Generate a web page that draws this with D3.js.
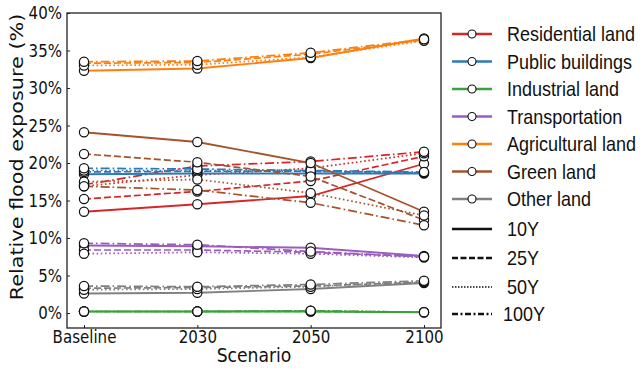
<!DOCTYPE html>
<html><head><meta charset="utf-8">
<script src="https://cdn.jsdelivr.net/npm/d3@7"></script>
<style>body{margin:0;background:#fff}svg{display:block}</style>
</head><body>
<svg id="c" width="640" height="371"></svg>
<script>
// ---- data ----
const scenarios = ["Baseline", "2030", "2050", "2100"];
const returnPeriods = ["10Y", "25Y", "50Y", "100Y"];
const landTypes = ["Residential land", "Public buildings", "Industrial land", "Transportation", "Agricultural land", "Green land", "Other land"];
const landColors = ["#d62728", "#2f79b5", "#3ca03c", "#9b5cbf", "#ff7f0e", "#a5532c", "#808080"];
const yTicks = [0, 5, 10, 15, 20, 25, 30, 35, 40];
// rows: 10Y, 25Y, 50Y, 100Y ; columns: scenarios
const residential = [[13.5, 14.5, 15.6, 19.9], [15.2, 16.2, 17.6, 20.9], [16.9, 18.4, 19.3, 21.3], [17.1, 19.6, 20.2, 21.5]];
const publicBuildings = [[18.5, 18.6, 18.6, 18.6], [18.8, 18.9, 18.9, 18.7], [19.0, 19.0, 18.9, 18.7], [19.3, 19.2, 19.0, 18.8]];
const industrial = [[0.2, 0.2, 0.2, 0.1], [0.2, 0.2, 0.2, 0.1], [0.2, 0.2, 0.3, 0.1], [0.2, 0.2, 0.3, 0.1]];
const transportation = [[9.0, 8.9, 8.7, 7.6], [8.4, 8.4, 8.1, 7.5], [7.9, 8.1, 7.9, 7.4], [9.3, 9.1, 8.2, 7.5]];
const agricultural = [[32.3, 32.6, 34.0, 36.6], [33.3, 33.4, 34.5, 36.4], [33.0, 33.1, 34.1, 36.3], [33.5, 33.6, 34.7, 36.5]];
const greenLand = [[24.1, 22.8, 20.0, 13.5], [21.2, 20.1, 18.2, 12.4], [17.5, 17.8, 16.0, 13.0], [16.9, 16.4, 14.7, 11.7]];
const otherLand = [[2.6, 2.7, 3.2, 4.0], [3.3, 3.4, 3.6, 4.1], [3.1, 3.2, 3.5, 4.2], [3.6, 3.5, 3.8, 4.3]];
const allSeries = [residential, publicBuildings, industrial, transportation, agricultural, greenLand, otherLand];

// ---- styles ----
const dashes = ["none", "7,3", "1.6,2.6", "9,3,1.6,3"];
const legendDashes = ["none", "6,2.5", "1.5,1.5", "6,2.5,2,2.5"];
const sx = 0.86;

const svg = d3.select("#c");
const x = d3.scalePoint().domain(scenarios).range([67, 441]).padding(0.15);
const y = d3.scaleLinear().domain([-2, 40]).range([328, 13]);

// lines + markers
const line = d3.line().x((d, i) => x(scenarios[i])).y(d => y(d));
const g = svg.append("g");
allSeries.forEach((series, li) => {
  series.forEach((vals, ri) => {
    g.append("path").attr("d", line(vals)).attr("fill", "none")
      .attr("stroke", landColors[li]).attr("stroke-width", ri === 0 ? 1.8 : 1.7)
      .attr("stroke-dasharray", dashes[ri]);
    g.selectAll(null).data(vals).enter().append("circle")
      .attr("cx", (d, i) => x(scenarios[i])).attr("cy", d => y(d)).attr("r", 4.6)
      .attr("fill", "#fff").attr("stroke", "#111").attr("stroke-width", 1.2);
  });
});

// axes
const yAxis = svg.append("g").attr("transform", "translate(67,0)")
  .call(d3.axisLeft(y).tickValues(yTicks).tickFormat(d => d + "%").tickSize(-3).tickSizeOuter(0).tickPadding(5));
const xAxis = svg.append("g").attr("transform", "translate(0,328)")
  .call(d3.axisBottom(x).tickSize(-3).tickSizeOuter(0).tickPadding(3));
[yAxis, xAxis].forEach(a => {
  a.select(".domain").remove();
  a.selectAll("line").attr("stroke", "#222").attr("stroke-width", 1);
  a.selectAll("text").attr("font-family", "DejaVu Sans").attr("font-size", 17.5).attr("fill", "#111")
    .attr("transform", `scale(${sx},1)`);
});
yAxis.selectAll("text").attr("x", -5 / sx);

// frame
svg.append("rect").attr("x", 67).attr("y", 13).attr("width", 441 - 67).attr("height", 328 - 13)
  .attr("fill", "none").attr("stroke", "#222").attr("stroke-width", 1.3);

// axis titles
svg.append("text").attr("transform", `translate(254,362) scale(${sx},1)`).attr("text-anchor", "middle")
  .attr("font-family", "DejaVu Sans").attr("font-size", 20).attr("fill", "#111").text("Scenario");
svg.append("text").attr("transform", `translate(23,157) scale(${sx},1) rotate(-90)`).attr("text-anchor", "middle")
  .attr("font-family", "DejaVu Sans").attr("font-size", 20.8).attr("fill", "#111").text("Relative flood exposure (%)");

// legend
const legY = [34, 61.5, 89, 116.5, 144, 171.5, 199];
const lsx = 0.9;
const leg = svg.append("g");
landTypes.forEach((name, i) => {
  leg.append("line").attr("x1", 452).attr("x2", 492).attr("y1", legY[i]).attr("y2", legY[i])
    .attr("stroke", landColors[i]).attr("stroke-width", 2.6);
  leg.append("circle").attr("cx", 472).attr("cy", legY[i]).attr("r", 4)
    .attr("fill", "#fff").attr("stroke", "#111").attr("stroke-width", 1.1);
  leg.append("text").attr("transform", `translate(507,${legY[i] + 7}) scale(${lsx},1)`)
    .attr("font-family", "Liberation Sans, Arial").attr("font-size", 20).attr("fill", "#111").text(name);
});
const rpY = [229, 258, 287, 314];
returnPeriods.forEach((rp, i) => {
  leg.append("line").attr("x1", 452).attr("x2", 492).attr("y1", rpY[i]).attr("y2", rpY[i])
    .attr("stroke", "#111").attr("stroke-width", i === 2 ? 1.6 : 2.6).attr("stroke-dasharray", legendDashes[i]);
  leg.append("text").attr("transform", `translate(${i === 3 ? 503 : 507},${rpY[i] + 7}) scale(${lsx},1)`)
    .attr("font-family", "Liberation Sans, Arial").attr("font-size", 20).attr("fill", "#111").text(rp);
});
</script>
</body></html>
